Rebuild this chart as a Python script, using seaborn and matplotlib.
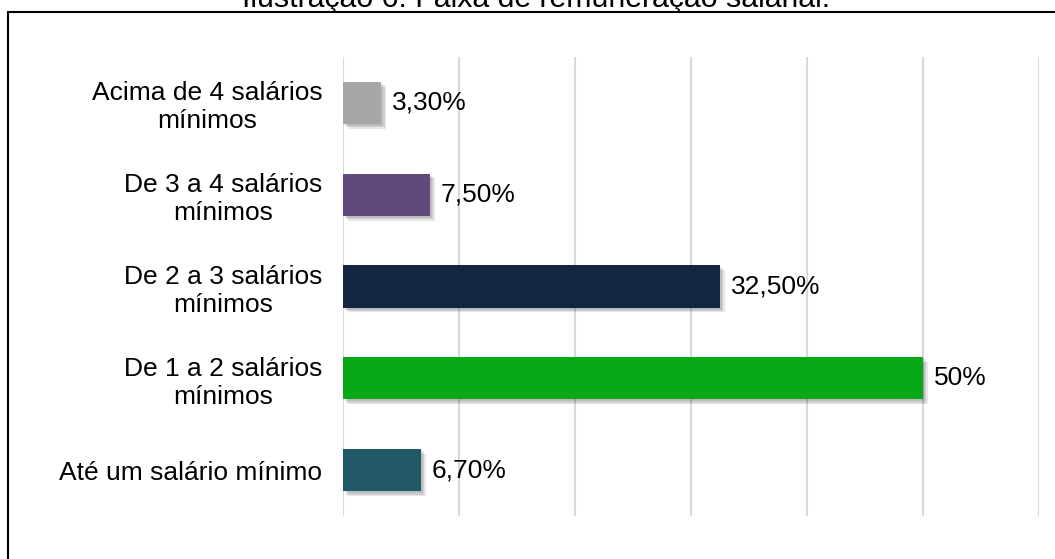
import pandas as pd
import matplotlib.pyplot as plt
import matplotlib.patheffects as pe
from matplotlib.lines import Line2D
import seaborn as sns

sns.set_style('white')
plt.rcParams['font.family'] = ['Liberation Sans', 'DejaVu Sans']
plt.rcParams['text.color'] = 'black'

# Faixa de remuneração (top to bottom as in the chart)
categories = ['Acima de 4 salários\nmínimos', 'De 3 a 4 salários\nmínimos',
              'De 2 a 3 salários\nmínimos', 'De 1 a 2 salários\nmínimos',
              'Até um salário mínimo']
values = [3.3, 7.5, 32.5, 50.0, 6.7]
value_labels = ['3,30%', '7,50%', '32,50%', '50%', '6,70%']
colors = ['#A6A6A6', '#604A7B', '#122641', '#06A818', '#215868']

dataset = pd.DataFrame({'faixa': categories, 'percent': values})

fig = plt.figure(figsize=(10.55, 5.59), dpi=100)
ax = fig.add_axes([343 / 1055, 1 - 516 / 559, (1039 - 343) / 1055, (516 - 57) / 559])

sns.barplot(data=dataset, x='percent', y='faixa', hue='faixa', palette=colors,
            orient='h', width=0.46, saturation=1, linewidth=0, legend=False, ax=ax)

# soft drop shadow, bottom-right
shadow = [pe.SimplePatchShadow(offset=(o, -o), shadow_rgbFace='#333333', alpha=0.12)
          for o in (3.5, 2.5, 1.5)] + [pe.Normal()]
for bar in ax.patches:
    bar.set_path_effects(shadow)

for container, lab in zip(ax.containers, value_labels):
    ax.bar_label(container, labels=[lab], padding=8, fontsize=19, color='black')

ax.set_xlim(0, 60)
ax.set_xticks(range(0, 61, 10))
ax.xaxis.grid(True, color='#D9D9D9', linewidth=1.5)
ax.set_axisbelow(True)
ax.tick_params(axis='x', length=0, labelbottom=False)
ax.tick_params(axis='y', length=0, pad=15)
for lbl in ax.get_yticklabels():
    lbl.set_fontsize(19)
    lbl.set_color('black')
    lbl.set_multialignment('center')
ax.set_xlabel('')
ax.set_ylabel('')
sns.despine(ax=ax, left=True, bottom=True)

# outer frame (top and left visible)
fig.add_artist(Line2D([8 / 1055, 8 / 1055], [0, 1 - 12 / 559], color='black', linewidth=1.5))
fig.add_artist(Line2D([8 / 1055, 1], [1 - 12 / 559, 1 - 12 / 559], color='black', linewidth=1.5))

fig.text(536 / 1055, 1 - 7 / 559, 'Ilustração 6: Faixa de remuneração salarial.',
         ha='center', va='baseline', fontsize=21.8, color='black')

fig.savefig('out.png', dpi=100)
